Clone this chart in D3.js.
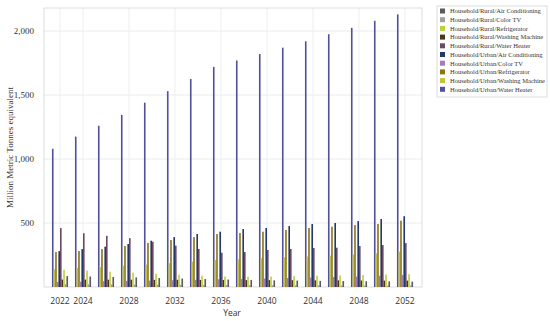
<!DOCTYPE html>
<html>
<head>
<meta charset="utf-8">
<script src="https://cdn.jsdelivr.net/npm/d3@7"></script>
<style>
  body { margin: 0; background: #fff; }
  svg { display: block; }
</style>
</head>
<body>
<svg width="550" height="321"></svg>
<script>
var years = ["2022","2024","2026","2028","2030","2032","2034","2036","2038","2040","2042","2044","2046","2048","2050","2052"];
var labelYears = ["2022","2024","2028","2032","2036","2040","2044","2048","2052"];
var yTicks = [500, 1000, 1500, 2000];

// legend order
var seriesNames = [
  "Household/Rural/Air Conditioning",
  "Household/Rural/Color TV",
  "Household/Rural/Refrigerator",
  "Household/Rural/Washing Machine",
  "Household/Rural/Water Heater",
  "Household/Urban/Air Conditioning",
  "Household/Urban/Color TV",
  "Household/Urban/Refrigerator",
  "Household/Urban/Washing Machine",
  "Household/Urban/Water Heater"
];
var colors = ["#5a5a5a","#a0a0a8","#bccf3e","#4a3a14","#6a4a62","#26386a","#a67abf","#8a7512","#c2c23e","#52509a"];

var ruralAC      = [85, 82, 78, 75, 70, 66, 62, 58, 55, 52, 50, 48, 46, 45, 44, 42];
var ruralTV      = [22, 21, 20, 19, 18, 17, 16, 15, 14, 14, 13, 13, 12, 12, 11, 11];
var ruralFridge  = [135, 128, 120, 112, 104, 96, 88, 82, 80, 82, 85, 88, 90, 94, 97, 100];
var ruralWash    = [58, 58, 57, 57, 56, 56, 55, 55, 54, 54, 53, 52, 52, 51, 50, 50];
var ruralHeater  = [460, 420, 400, 382, 354, 323, 297, 268, 273, 289, 297, 305, 307, 320, 328, 343];
var urbanAC      = [280, 296, 315, 336, 362, 390, 414, 432, 453, 461, 476, 492, 500, 515, 531, 553];
var urbanTV      = [40, 42, 45, 48, 50, 53, 56, 60, 63, 66, 70, 74, 78, 82, 88, 94];
var urbanFridge  = [273, 281, 296, 320, 344, 367, 390, 414, 422, 432, 445, 461, 471, 484, 492, 518];
var urbanWash    = [140, 148, 156, 165, 175, 186, 198, 211, 216, 224, 232, 238, 245, 254, 263, 276];
var urbanHeater  = [1080, 1175, 1260, 1345, 1440, 1530, 1625, 1720, 1770, 1820, 1870, 1920, 1975, 2025, 2080, 2130];

var values = [ruralAC, ruralTV, ruralFridge, ruralWash, ruralHeater, urbanAC, urbanTV, urbanFridge, urbanWash, urbanHeater];
// bars inside a group are drawn in reverse legend order
var drawOrder = d3.range(seriesNames.length).reverse();

var svg = d3.select("svg");
var plotLeft = 44, plotRight = 422, plotTop = 8, plotBottom = 287;

var x = d3.scaleBand().domain(years).range([48.5, 416.5]).paddingInner(0.3).paddingOuter(0.15);
var x1 = d3.scaleBand().domain(drawOrder).range([0, x.bandwidth()]);
var y = d3.scaleLinear().domain([0, 2180]).range([plotBottom, plotTop]);

// grid
svg.append("g").selectAll("line")
  .data(yTicks).enter().append("line")
    .attr("x1", plotLeft).attr("x2", plotRight)
    .attr("y1", d => y(d)).attr("y2", d => y(d))
    .style("stroke", "#ececec");
svg.append("g").selectAll("line")
  .data(labelYears).enter().append("line")
    .attr("x1", d => x(d) + x.bandwidth() / 2).attr("x2", d => x(d) + x.bandwidth() / 2)
    .attr("y1", plotTop).attr("y2", plotBottom)
    .style("stroke", "#eeeeee");

svg.append("rect")
  .attr("x", plotLeft).attr("y", plotTop)
  .attr("width", plotRight - plotLeft).attr("height", plotBottom - plotTop)
  .style("fill", "none").style("stroke", "#dddddd");

// bars
var groups = svg.append("g").selectAll("g")
  .data(years).enter().append("g")
    .attr("transform", d => "translate(" + x(d) + ",0)");

groups.selectAll("rect")
  .data((d, i) => drawOrder.map(s => ({ s: s, v: values[s][i] })))
  .enter().append("rect")
    .attr("x", d => x1(d.s))
    .attr("width", x1.bandwidth())
    .attr("y", d => y(d.v))
    .attr("height", d => y(0) - y(d.v))
    .style("fill", d => colors[d.s]);

// y axis labels
svg.append("g").selectAll("text")
  .data(yTicks).enter().append("text")
    .attr("x", 34).attr("y", d => y(d) + 3)
    .attr("text-anchor", "end")
    .style("font-family", "Liberation Serif, serif")
    .style("font-size", "9px")
    .style("fill", "#333")
    .text(d => d3.format(",")(d));

svg.append("text")
  .attr("transform", "translate(13," + ((plotTop + plotBottom) / 2) + ") rotate(-90)")
  .attr("text-anchor", "middle")
  .style("font-family", "Liberation Serif, serif")
  .style("font-size", "9px")
  .style("fill", "#333")
  .text("Million Metric Tonnes equivalent");

// x axis labels
svg.append("g").selectAll("text")
  .data(labelYears).enter().append("text")
    .attr("x", d => x(d) + x.bandwidth() / 2).attr("y", 304)
    .attr("text-anchor", "middle")
    .style("font-family", "Open Sans, sans-serif")
    .style("font-size", "8.5px")
    .style("fill", "#333")
    .text(d => d);

svg.append("text")
  .attr("x", 232).attr("y", 316)
  .attr("text-anchor", "middle")
  .style("font-family", "Open Sans, sans-serif")
  .style("font-size", "8.5px")
  .style("fill", "#333")
  .text("Year");

// legend
var legend = svg.append("g").attr("transform", "translate(437,6)");
legend.append("rect")
  .attr("width", 110).attr("height", 91)
  .style("fill", "#fff").style("stroke", "#dddddd");
var item = legend.selectAll("g.item")
  .data(seriesNames).enter().append("g")
    .attr("class", "item")
    .attr("transform", (d, i) => "translate(3," + (2.5 + i * 8.7) + ")");
item.append("rect")
  .attr("width", 5).attr("height", 5)
  .style("fill", (d, i) => colors[i]);
item.append("text")
  .attr("x", 10).attr("y", 4.8)
  .style("font-family", "Liberation Serif, serif")
  .style("font-size", "6.5px")
  .style("fill", "#333")
  .text(d => d);
</script>
</body>
</html>
